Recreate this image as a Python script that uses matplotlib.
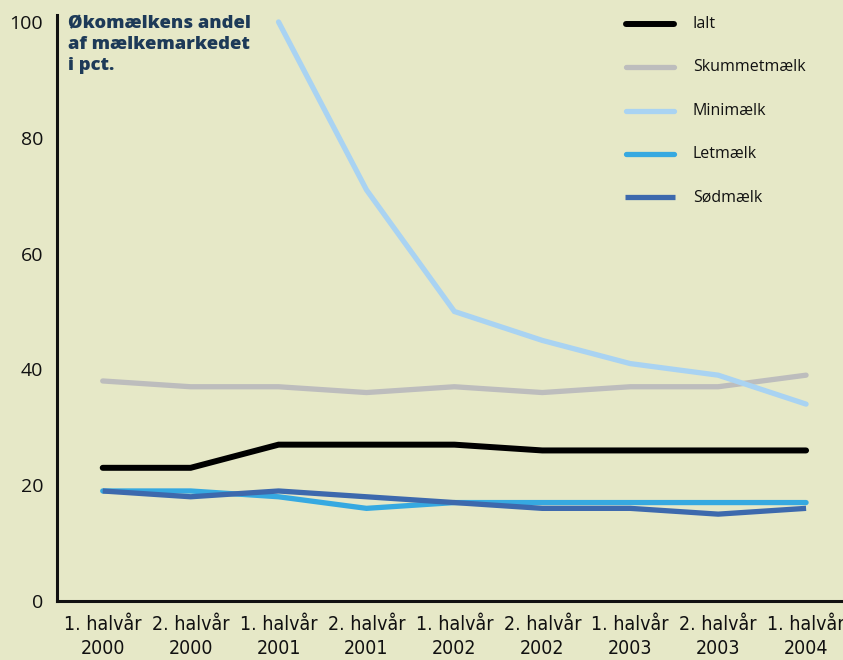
import numpy as np
import matplotlib.pyplot as plt
from matplotlib.lines import Line2D

# data (pct.)
periods = ["1. halvår\n2000", "2. halvår\n2000", "1. halvår\n2001", "2. halvår\n2001",
           "1. halvår\n2002", "2. halvår\n2002", "1. halvår\n2003", "2. halvår\n2003",
           "1. halvår\n2004"]
ialt = [23, 23, 27, 27, 27, 26, 26, 26, 26]
skummet = [38, 37, 37, 36, 37, 36, 37, 37, 39]
mini = [np.nan, np.nan, 100, 71, 50, 45, 41, 39, 34]
let = [19, 19, 18, 16, 17, 17, 17, 17, 17]
sod = [19, 18, 19, 18, 17, 16, 16, 15, 16]

names = ["Ialt", "Skummetmælk", "Minimælk", "Letmælk", "Sødmælk"]
series = [ialt, skummet, mini, let, sod]
colors = ["#000000", "#bdbdbd", "#a9d3f2", "#36a9e1", "#3d69ad"]
widths = [4.3, 3.8, 3.8, 3.8, 3.8]
caps = ["round", "round", "round", "round", "butt"]

BG = "#e6e8c7"
REG = ["Open Sans", "DejaVu Sans"]

W, H = 843, 660
fig = plt.figure(figsize=(W / 100, H / 100), dpi=100, facecolor=BG)
ax = fig.add_axes([57 / W, 59 / H, (W - 57) / W, 586 / H], facecolor=BG)

x = np.arange(len(periods))
for s, c, lw, cap in zip(series, colors, widths, caps):
    ax.plot(x, s, color=c, lw=lw, solid_capstyle=cap, solid_joinstyle="miter",
            clip_on=False)

ax.set_xlim(-0.52, 8.42)
ax.set_ylim(0, 101.2)
ax.set_yticks([0, 20, 40, 60, 80, 100])
ax.set_xticks(x)
ax.set_xticklabels(periods, family="DejaVu Sans", fontstretch="condensed",
                   fontsize=14, linespacing=1.35)
for t in ax.get_yticklabels():
    t.set_family(REG)
    t.set_fontsize(14)
ax.tick_params(axis="both", length=0, colors="#111111")
ax.tick_params(axis="y", pad=10)
ax.tick_params(axis="x", pad=10)

for side in ["top", "right"]:
    ax.spines[side].set_visible(False)
for side in ["left", "bottom"]:
    ax.spines[side].set_linewidth(2.2)
    ax.spines[side].set_color("#111111")

fig.text(68 / W, 1 - 15 / H, "Økomælkens andel\naf mælkemarkedet\ni pct.",
         family=REG, fontsize=13.2, fontweight="heavy", color="#1d3a58",
         va="top", ha="left", linespacing=1.3)

# legend drawn by hand
for i, (n, c, lw, cap) in enumerate(zip(names, colors, widths, caps)):
    yy = 1 - (24 + 43.3 * i) / H
    x0, x1 = (625, 675) if cap == "butt" else (626, 674)
    fig.add_artist(Line2D([x0 / W, x1 / W], [yy, yy], color=c, lw=lw,
                          solid_capstyle=cap, transform=fig.transFigure))
    fig.text(693 / W, yy, n, family=REG, fontsize=11.5, color="#111111",
             va="center", ha="left")

fig.savefig("out.png", dpi=100, facecolor=BG)
